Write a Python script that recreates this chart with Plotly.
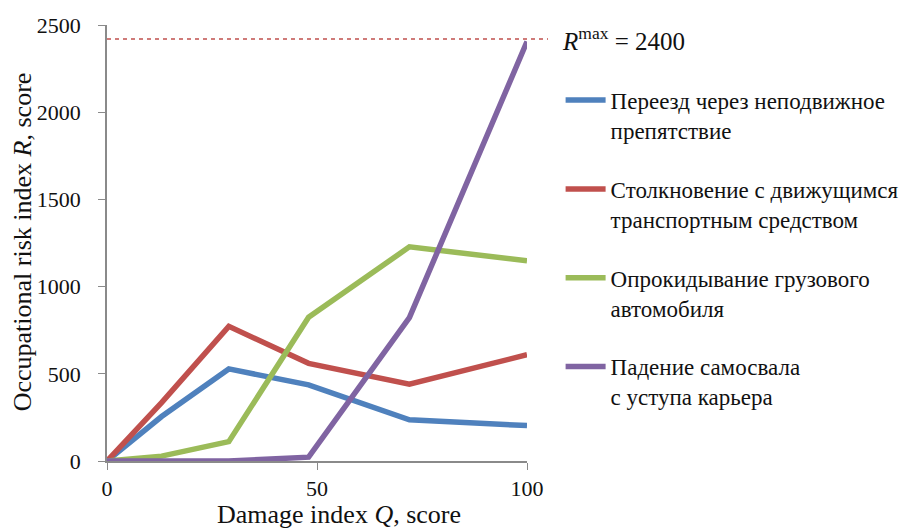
import plotly.graph_objects as go

# Data
q_values = [0, 13, 29, 48, 72, 100]
series_names = [
    "Переезд через неподвижное<br>препятствие",
    "Столкновение с движущимся<br>транспортным средством",
    "Опрокидывание грузового<br>автомобиля",
    "Падение самосвала<br>с уступа карьера",
]
blue_vals = [0, 255, 528, 437, 236, 203]
red_vals = [0, 335, 772, 560, 441, 609]
green_vals = [0, 28, 111, 824, 1228, 1148]
purple_vals = [0, 0, 0, 22, 822, 2405]
series_colors = ["#4F81BD", "#C0504D", "#9BBB59", "#8064A2"]
r_max_label = 2400
r_max_line = 2420
x_ticks = [0, 50, 100]
y_ticks = [0, 500, 1000, 1500, 2000, 2500]
x_title = "Damage index <i>Q</i>, score"
y_title = "Occupational risk index <i>R</i>, score"

FONT = "Liberation Serif"

fig = go.Figure()
for name, vals, col in zip(series_names, [blue_vals, red_vals, green_vals, purple_vals], series_colors):
    fig.add_trace(go.Scatter(
        x=q_values, y=vals, mode="lines", name=name, legendgroup=name,
        line=dict(color=col, width=5.5),
    ))

# R max dashed line
fig.add_shape(type="line", xref="paper", yref="y", x0=0, x1=1.05, y0=r_max_line, y1=r_max_line,
              line=dict(color="#C0504D", width=1.5, dash="4px,4px"))
fig.add_annotation(xref="paper", yref="y", x=1.078, y=r_max_line, xanchor="left", yanchor="middle",
                   text="<i>R</i><sup>max</sup> = %d" % r_max_label, showarrow=False,
                   font=dict(family=FONT, size=25, color="#111"))

# x-axis title (slightly right of centre, as in the reference)
fig.add_annotation(xref="paper", yref="paper", x=0.552, y=-0.122, xanchor="center", yanchor="middle",
                   text=x_title, showarrow=False,
                   font=dict(family=FONT, size=26, color="#111"))

fig.update_layout(
    width=905, height=521,
    margin=dict(l=99, r=386, t=17, b=68, autoexpand=False),
    paper_bgcolor="white", plot_bgcolor="white",
    font=dict(family=FONT, size=21, color="#111"),
    showlegend=True,
    legend=dict(x=1.08, y=0.877, xanchor="left", yanchor="top", valign="top",
                tracegroupgap=26, font=dict(family=FONT, size=23, color="#111"),
                itemwidth=40, bgcolor="rgba(0,0,0,0)"),
    xaxis=dict(range=[0, 100], tickvals=x_ticks, showgrid=False, zeroline=False,
               automargin=False,
               showline=True, linecolor="#8a8a8a", linewidth=1.5,
               ticks="outside", ticklen=7, tickcolor="#8a8a8a",
               tickfont=dict(family=FONT, size=22, color="#111")),
    yaxis=dict(range=[0, 2500], tickvals=y_ticks, showgrid=False, zeroline=False,
               automargin=False, ticklabelstandoff=13,
               showline=True, linecolor="#8a8a8a", linewidth=1.5,
               ticks="outside", ticklen=7, tickcolor="#8a8a8a",
               tickfont=dict(family=FONT, size=22, color="#111")),
)
# y-axis title placed as an annotation so the tick-label standoff does not push it
fig.add_annotation(xref="paper", yref="paper", x=-0.202, y=0.502, xanchor="center", yanchor="middle",
                   text=y_title, textangle=-90, showarrow=False,
                   font=dict(family=FONT, size=26, color="#111"))

fig.write_html("out.html")
